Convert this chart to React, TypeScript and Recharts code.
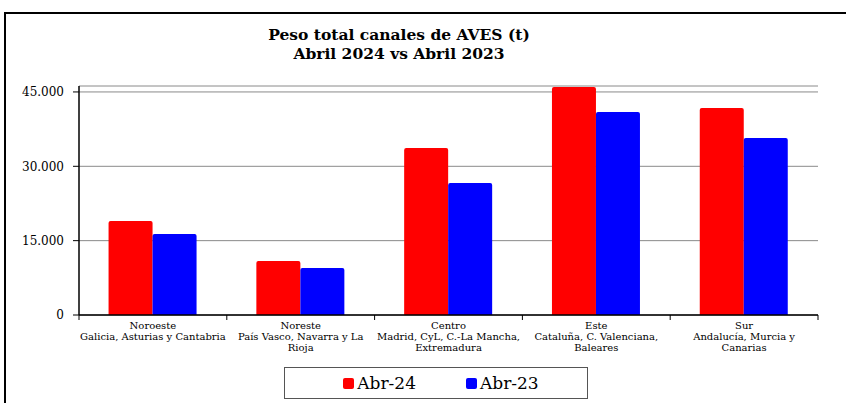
import { BarChart, Bar, XAxis, YAxis, CartesianGrid, Legend } from "recharts";

const regions = ["Noroeste", "Noreste", "Centro", "Este", "Sur"];
const regionLines = [
  ["Noroeste", "Galicia, Asturias y Cantabria"],
  ["Noreste", "País Vasco, Navarra y La", "Rioja"],
  ["Centro", "Madrid, CyL, C.-La Mancha,", "Extremadura"],
  ["Este", "Cataluña, C. Valenciana,", "Baleares"],
  ["Sur", "Andalucía, Murcia y", "Canarias"],
];
const abr24 = [18950, 10900, 33700, 46000, 41750];
const abr23 = [16350, 9500, 26650, 40950, 35700];
const yTicks = [0, 15000, 30000, 45000];
const seriesNames = ["Abr-24", "Abr-23"];
const seriesColors = ["#ff0000", "#0000ff"];

const data = regions.map((r, i) => ({ region: r, a24: abr24[i], a23: abr23[i] }));

const W = 846;
const H = 403;
const LEFT = 79;
const RIGHT = 28;
const BAND = (W - LEFT - RIGHT) / regions.length;
const FONT = "DejaVu Serif";

const fmt = (v: number) => (v === 0 ? "0" : v.toLocaleString("de-DE"));

function RegionTick(props: any) {
  const { x, y, payload, index } = props;
  const lines = regionLines[regions.indexOf(payload.value)] || [payload.value];
  return (
    <g>
      <line x1={x - BAND / 2} x2={x - BAND / 2} y1={y - 8} y2={y - 3} stroke="#000" />
      {index === regions.length - 1 && (
        <line x1={x + BAND / 2} x2={x + BAND / 2} y1={y - 8} y2={y - 3} stroke="#000" />
      )}
      <text x={x} y={y} textAnchor="middle" fontFamily={FONT} fontSize={10} fill="#000">
        {lines.map((l: string, i: number) => (
          <tspan key={i} x={x} dy={i === 0 ? 6 : 11}>
            {l}
          </tspan>
        ))}
      </text>
    </g>
  );
}

function LegendBox() {
  return (
    <div
      style={{
        border: "1px solid #555",
        height: 32,
        boxSizing: "border-box",
        display: "flex",
        alignItems: "center",
        justifyContent: "center",
        gap: 50,
        paddingLeft: 10,
        fontFamily: FONT,
        fontSize: 17,
        color: "#000",
      }}
    >
      {seriesNames.map((n, i) => (
        <span key={n} style={{ display: "flex", alignItems: "center" }}>
          <span
            style={{
              width: 11,
              height: 11,
              background: seriesColors[i],
              borderRadius: 2,
              marginRight: 3,
              display: "inline-block",
            }}
          />
          {n}
        </span>
      ))}
    </div>
  );
}

export default function App() {
  return (
    <div style={{ position: "fixed", left: 0, top: 0, width: W, height: H, overflow: "hidden", background: "#fff" }}>
      <div
        style={{
          position: "absolute",
          left: 4,
          top: 12,
          width: W + 20,
          height: H + 20,
          border: "2px solid #000",
        }}
      />
      <div
        style={{
          position: "absolute",
          left: 0,
          top: 25,
          width: 798,
          textAlign: "center",
          fontFamily: FONT,
          fontWeight: "bold",
          fontSize: 15.5,
          lineHeight: "19px",
          color: "#000",
        }}
      >
        Peso total canales de AVES (t)
        <br />
        Abril 2024 vs Abril 2023
      </div>
      <div style={{ position: "absolute", left: 0, top: 0 }}>
        <BarChart
          width={W}
          height={H}
          data={data}
          margin={{ top: 86, right: RIGHT, left: 0, bottom: 2 }}
          barCategoryGap="20%"
          barGap={0}
        >
          <CartesianGrid vertical={false} stroke="#8a8a8a" strokeWidth={1} />
          <XAxis
            dataKey="region"
            height={52}
            interval={0}
            axisLine={{ stroke: "#000", strokeWidth: 1.5 }}
            tickLine={false}
            tick={<RegionTick />}
          />
          <YAxis
            width={LEFT}
            domain={[0, 46200]}
            ticks={yTicks}
            tickFormatter={fmt}
            axisLine={{ stroke: "#000", strokeWidth: 1.5 }}
            tickLine={{ stroke: "#000" }}
            tickSize={6}
            tickMargin={9}
            tick={{ fontFamily: FONT, fontSize: 12, fill: "#000" }}
          />
          <Legend
            verticalAlign="bottom"
            content={() => <LegendBox />}
            wrapperStyle={{ left: 284, width: 304, height: 34 }}
          />
          <Bar dataKey="a24" name={seriesNames[0]} fill={seriesColors[0]} radius={[2, 2, 0, 0]} isAnimationActive={false} />
          <Bar dataKey="a23" name={seriesNames[1]} fill={seriesColors[1]} radius={[2, 2, 0, 0]} isAnimationActive={false} />
        </BarChart>
      </div>
    </div>
  );
}
